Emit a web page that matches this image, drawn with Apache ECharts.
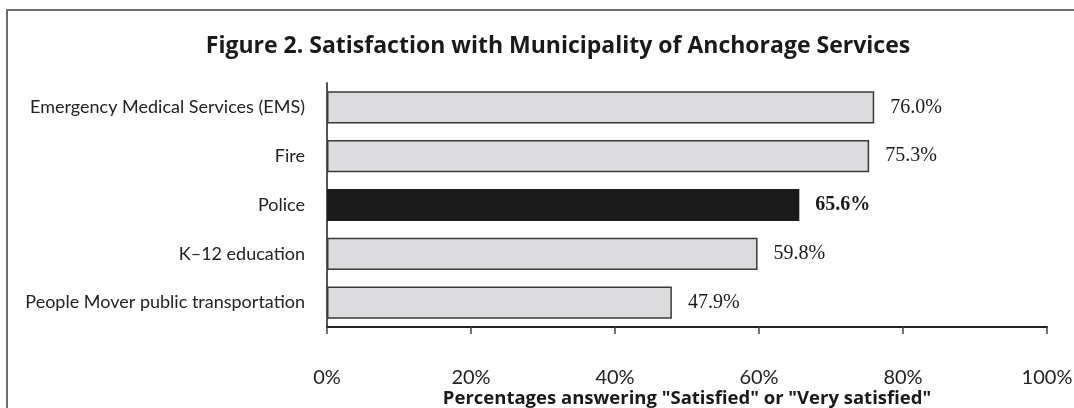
<!DOCTYPE html>
<html>
<head>
<meta charset="utf-8">
<script src="https://cdn.jsdelivr.net/npm/echarts@6/dist/echarts.min.js"></script>
<style>
html,body{margin:0;padding:0;background:#fff;}
#chart{width:1074px;height:408px;}
</style>
</head>
<body>
<div id="chart"></div>
<script>
const titleText = 'Figure 2. Satisfaction with Municipality of Anchorage Services';
const axisTitle = 'Percentages answering "Satisfied" or "Very satisfied"';
const categories = ['Emergency Medical Services (EMS)', 'Fire', 'Police', 'K\u201312 education', 'People Mover public transportation'];
const values = [76.0, 75.3, 65.6, 59.8, 47.9];
const highlighted = 'Police';
const tickValues = [0, 20, 40, 60, 80, 100];

const chart = echarts.init(document.getElementById('chart'), null, {renderer: 'canvas'});

const data = categories.map((c, i) => {
  const hi = c === highlighted;
  return {
    value: values[i],
    itemStyle: {
      color: hi ? '#1b1b1b' : '#dcdcde',
      borderColor: hi ? '#1b1b1b' : '#3a3a3a',
      borderWidth: 1.5
    },
    label: {
      fontWeight: hi ? 'bold' : 'normal'
    }
  };
});

chart.setOption({
  animation: false,
  backgroundColor: '#ffffff',
  graphic: [
    {
      type: 'rect',
      shape: {x: 7, y: 10, width: 1200, height: 600},
      style: {fill: 'none', stroke: '#6e6e6e', lineWidth: 2}
    },
    {
      type: 'text',
      x: 558, y: 46,
      style: {
        text: titleText,
        font: 'bold 23px "Open Sans"',
        fill: '#1a1a1a',
        align: 'center',
        verticalAlign: 'middle'
      }
    }
  ],
  grid: {left: 327, right: 27, top: 83, bottom: 81, containLabel: false, outerBoundsMode: 'none'},
  xAxis: {
    type: 'value',
    min: 0, max: 100, interval: 20,
    name: axisTitle,
    nameLocation: 'middle',
    nameGap: 72,
    nameMoveOverlap: false,
    nameTextStyle: {fontFamily: 'Open Sans', fontWeight: 'bold', fontSize: 18.5, color: '#1a1a1a', verticalAlign: 'middle'},
    axisLine: {show: true, lineStyle: {color: '#222', width: 2}},
    axisTick: {show: true, length: 7, lineStyle: {color: '#444', width: 1.5}},
    axisLabel: {
      margin: 41,
      fontFamily: 'Lato', fontSize: 20, color: '#222',
      formatter: v => tickValues.includes(v) ? v + '%' : ''
    },
    splitLine: {show: false}
  },
  yAxis: {
    type: 'category',
    data: categories,
    inverse: true,
    axisLine: {show: true, lineStyle: {color: '#555', width: 2}},
    axisTick: {show: false},
    axisLabel: {margin: 22, fontFamily: 'Lato', fontSize: 18, color: '#222'}
  },
  series: [{
    type: 'bar',
    data: data,
    barCategoryGap: '34%',
    label: {
      show: true,
      position: 'right',
      distance: 16,
      fontFamily: 'Liberation Serif',
      fontSize: 20,
      color: '#1a1a1a',
      formatter: p => p.value.toFixed(1) + '%'
    }
  }]
});
</script>
</body>
</html>
